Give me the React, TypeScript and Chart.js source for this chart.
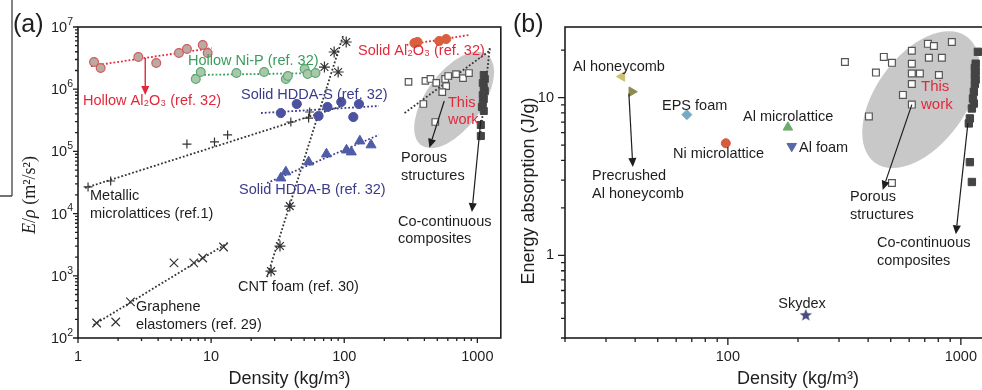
import React, { useEffect, useRef } from 'react';
import { Chart, registerables } from 'chart.js';

Chart.register(...registerables);

const SANS = '"Liberation Sans", Arial, Helvetica, sans-serif';
const SERIF = '"Liberation Serif", "Times New Roman", Times, serif';
const INK = '#1e1e1e';
const RED = '#e2283a';
const GREEN = '#3a9c5e';
const BLUE = '#3b3b8c';

// ---------------- Panel (a): specific modulus vs density ----------------
const hollowAl2O3Density = [1.32, 1.48, 2.84, 3.87, 5.73, 6.58, 8.65, 9.42];
const hollowAl2O3Modulus = [2.74e6, 2.19e6, 3.3e6, 2.64e6, 3.82e6, 4.43e6, 5.14e6, 3.82e6];
const hollowAl2O3FitDensity = [1.25, 10.1];
const hollowAl2O3FitModulus = [2.36e6, 4.59e6];

const hollowNiPDensity = [7.67, 8.36, 15.5, 25, 36.4, 37.7, 50.4, 53.1, 60.8];
const hollowNiPModulus = [1.46e6, 1.89e6, 1.82e6, 1.89e6, 1.46e6, 1.63e6, 2.11e6, 1.75e6, 1.82e6];
const hollowNiPFitDensity = [7.28, 65.2];
const hollowNiPFitModulus = [1.69e6, 1.82e6];

const solidAl2O3Density = [337, 355, 517, 583];
const solidAl2O3Modulus = [5.53e6, 5.74e6, 5.96e6, 6.41e6];
const solidAl2O3FitDensity = [294, 865];
const solidAl2O3FitModulus = [5.14e6, 7.43e6];

const hddaSDensity = [33.4, 44, 64.1, 74.8, 95, 117, 129];
const hddaSModulus = [4.14e5, 5.78e5, 3.71e5, 5.18e5, 6.23e5, 3.57e5, 5.78e5];
const hddaSFitDensity = [23.7, 182];
const hddaSFitModulus = [4.14e5, 5.37e5];

const hddaBDensity = [33.4, 36.4, 54, 73.5, 104, 113, 131, 159];
const hddaBModulus = [3.73e4, 4.67e4, 6.76e4, 9.08e4, 1.05e5, 9.78e4, 1.47e5, 1.27e5];
const hddaBFitDensity = [26.3, 182];
const hddaBFitModulus = [3.1e4, 1.84e5];

const metallicDensity = [1.19, 1.76, 6.58, 10.6, 13.3, 39.7, 54, 55];
const metallicModulus = [2.68e4, 3.34e4, 1.31e5, 1.42e5, 1.84e5, 2.97e5, 3.44e5, 4.3e5];
const metallicFitDensity = [1.13, 96.7];
const metallicFitModulus = [2.58e4, 5.37e5];

const cntDensity = [28.2, 32.9, 39, 71, 90, 84, 103.5];
const cntModulus = [1.19e3, 3.01e3, 1.32e4, 2.27e6, 1.89e6, 3.96e6, 5.74e6];
const cntFitDensity = [26.3, 98.4];
const cntFitModulus = [957, 7.43e6];

const grapheneDensity = [1.38, 1.92, 2.48, 5.26, 7.41, 8.65, 12.4];
const grapheneModulus = [174, 181, 380, 1610, 1610, 1930, 2900];
const grapheneFitDensity = [1.31, 13.3];
const grapheneFitModulus = [162, 3370];

const porousDensityA = [304, 407, 444, 491, 573, 604, 692, 780, 865, 583, 545, 393, 483];
const porousModulusA = [1.31e6, 1.36e6, 1.46e6, 1.26e6, 1.46e6, 1.63e6, 1.75e6, 1.51e6, 1.82e6, 1.12e6, 9.0e5, 5.78e5, 2.97e5];
const porousFitDensityA = [284, 1259];
const porousFitModulusA = [4.14e5, 4.27e6];

const coContDensityA = [1117, 1137, 1099, 1117, 1137, 1099, 1117, 1099, 1082, 1117, 1062, 1062];
const coContModulusA = [1.69e6, 1.46e6, 1.26e6, 1.08e6, 9.35e5, 8.07e5, 6.95e5, 6.0e5, 5.17e5, 4.47e5, 2.66e5, 1.77e5];
const coContFitDensityA = [1239, 1044];
const coContFitModulusA = [4.59e6, 1.52e5];

// ---------------- Panel (b): energy absorption vs density ----------------
const benchmarkNames = ['Al honeycomb', 'Precrushed Al honeycomb', 'EPS foam', 'Ni microlattice', 'Al microlattice', 'Al foam', 'Skydex'];
const benchmarkDensity = [35.1, 38.7, 66.7, 98, 181, 188, 216];
const benchmarkEnergy = [13.6, 10.9, 7.8, 5.14, 6.48, 4.92, 0.42];

const porousDensityB = [318, 467, 506, 432, 616, 722, 766, 915, 729, 829, 616, 616, 667, 805, 616, 564, 616, 403, 506];
const porousEnergyB = [16.8, 18.1, 16.6, 14.4, 19.8, 21.9, 21.2, 22.5, 17.9, 17.9, 16.4, 14.2, 14.2, 13.9, 12.2, 10.4, 9.03, 7.6, 2.88];

const coContDensityB = [1183, 1158, 1148, 1158, 1148, 1158, 1148, 1137, 1127, 1137, 1115, 1093, 1082, 1093, 1115];
const coContEnergyB = [19.5, 16.4, 15.4, 14.6, 13.7, 13.0, 12.2, 10.9, 9.86, 9.17, 8.53, 7.38, 6.86, 3.9, 2.92];

// ---------------- Tick labels ----------------
const aXTickValues = [1, 10, 100, 1000];
const aXTickLabels = ['1', '10', '100', '1000'];
const aYTickValues = [1e2, 1e3, 1e4, 1e5, 1e6, 1e7];
const aYTickBase = ['10', '10', '10', '10', '10', '10'];
const aYTickExponent = ['2', '3', '4', '5', '6', '7'];
const bXTickValues = [100, 1000];
const bXTickLabels = ['100', '1000'];
const bYTickValues = [1, 10];
const bYTickLabels = ['1', '10'];

// ---------------- helpers ----------------
function pts(xs: number[], ys: number[]) {
  return xs.map((x, i) => ({ x, y: ys[i] }));
}

function allLogTicks(min: number, max: number) {
  const out: number[] = [];
  for (let e = Math.floor(Math.log10(min)) - 1; e <= Math.ceil(Math.log10(max)); e++) {
    for (let m = 1; m < 10; m++) {
      const v = m * Math.pow(10, e);
      if (v >= min * 0.9999 && v <= max * 1.0001) out.push(v);
    }
  }
  return out;
}

function isDecade(v: number) {
  const l = Math.log10(v);
  return Math.abs(l - Math.round(l)) < 1e-6;
}

function labelFor(values: number[], labels: string[]) {
  return (v: any) => {
    const i = values.findIndex((t) => Math.abs(Math.log10(t) - Math.log10(Number(v))) < 1e-6);
    return i >= 0 ? labels[i] : '';
  };
}

function pointSet(label: string, xs: number[], ys: number[], style: any) {
  return {
    label,
    data: pts(xs, ys),
    showLine: false,
    order: 0,
    backgroundColor: style.pointBackgroundColor,
    borderColor: style.pointBorderColor,
    ...style,
  };
}

function fitLine(label: string, xs: number[], ys: number[], color: string) {
  return {
    label,
    data: pts(xs, ys),
    showLine: true,
    pointRadius: 0,
    borderColor: color,
    backgroundColor: color,
    borderWidth: 1.8,
    borderDash: [1.8, 2],
    fill: false,
    order: 1,
  };
}

type Arrow = { from: [number, number]; to: [number, number]; color: string; head: number; width: number };
type TextItem = { lines: string[]; x: number; y: number; color: string; size?: number; lh?: number; align?: CanvasTextAlign };

type Deco = {
  ox: number;
  ellipse: { center: [number, number]; a: number; b: number; angle: number };
  arrows: Arrow[];
  texts: TextItem[];
  majorLen: number;
  minorLen: number;
  xTitleY: number;
  extra: (ctx: CanvasRenderingContext2D, chart: any) => void;
};

function makeDeco(d: Deco) {
  return {
    id: 'deco',
    beforeDatasetsDraw(chart: any) {
      const { ctx } = chart;
      const xs = chart.scales.x;
      const ys = chart.scales.y;
      const e = d.ellipse;
      const cx = xs.getPixelForValue(e.center[0]);
      const cy = ys.getPixelForValue(e.center[1]);
      ctx.save();
      ctx.beginPath();
      ctx.ellipse(cx, cy, e.a, e.b, (-e.angle * Math.PI) / 180, 0, Math.PI * 2);
      ctx.fillStyle = '#c8c8c8';
      ctx.fill();
      ctx.restore();
    },
    afterDraw(chart: any) {
      const { ctx, chartArea } = chart;
      const xs = chart.scales.x;
      const ys = chart.scales.y;
      ctx.save();
      // frame
      ctx.strokeStyle = INK;
      ctx.lineWidth = 1.6;
      ctx.strokeRect(chartArea.left, chartArea.top, chartArea.right - chartArea.left, chartArea.bottom - chartArea.top);
      // ticks
      ctx.lineWidth = 1.3;
      ctx.beginPath();
      for (const t of xs.ticks) {
        const px = xs.getPixelForValue(t.value);
        const len = isDecade(t.value) ? d.majorLen : d.minorLen;
        ctx.moveTo(px, chartArea.bottom);
        ctx.lineTo(px, chartArea.bottom + len);
      }
      for (const t of ys.ticks) {
        const py = ys.getPixelForValue(t.value);
        const len = isDecade(t.value) ? d.majorLen : d.minorLen;
        ctx.moveTo(chartArea.left, py);
        ctx.lineTo(chartArea.left - len, py);
      }
      ctx.stroke();
      // arrows
      for (const a of d.arrows) {
        const x1 = xs.getPixelForValue(a.from[0]);
        const y1 = ys.getPixelForValue(a.from[1]);
        const x2 = xs.getPixelForValue(a.to[0]);
        const y2 = ys.getPixelForValue(a.to[1]);
        const ang = Math.atan2(y2 - y1, x2 - x1);
        const hl = a.head;
        const hw = a.head * 0.45;
        const bx = x2 - Math.cos(ang) * hl;
        const by = y2 - Math.sin(ang) * hl;
        ctx.strokeStyle = a.color;
        ctx.fillStyle = a.color;
        ctx.lineWidth = a.width;
        ctx.beginPath();
        ctx.moveTo(x1, y1);
        ctx.lineTo(bx, by);
        ctx.stroke();
        ctx.beginPath();
        ctx.moveTo(x2, y2);
        ctx.lineTo(bx + Math.sin(ang) * hw, by - Math.cos(ang) * hw);
        ctx.lineTo(bx - Math.sin(ang) * hw, by + Math.cos(ang) * hw);
        ctx.closePath();
        ctx.fill();
      }
      // texts
      ctx.textBaseline = 'middle';
      for (const t of d.texts) {
        const size = t.size ?? 14.5;
        const lh = t.lh ?? 17.5;
        ctx.font = `${size}px ${SANS}`;
        ctx.fillStyle = t.color;
        ctx.textAlign = t.align ?? 'left';
        t.lines.forEach((line, i) => ctx.fillText(line, t.x - d.ox, t.y + i * lh));
      }
      // x title
      ctx.font = `18px ${SANS}`;
      ctx.fillStyle = INK;
      ctx.textAlign = 'center';
      ctx.fillText('Density (kg/m³)', (chartArea.left + chartArea.right) / 2, d.xTitleY);
      d.extra(ctx, chart);
      ctx.restore();
    },
  };
}

function baseScale(min: number, max: number, callback: (v: any) => string, isX: boolean, size: number, tl: number, pad: number) {
  return {
    type: 'logarithmic',
    min,
    max,
    afterBuildTicks: (s: any) => {
      s.ticks = allLogTicks(min, max).map((v) => ({ value: v }));
    },
    afterFit: (s: any) => {
      if (isX) s.height = 52;
      else s.width = size;
    },
    grid: { display: true, drawOnChartArea: false, drawTicks: true, tickLength: tl, color: 'rgba(0,0,0,0)', tickColor: 'rgba(0,0,0,0)' },
    border: { display: false },
    ticks: {
      autoSkip: false,
      maxRotation: 0,
      minRotation: 0,
      padding: pad,
      color: INK,
      font: { family: SANS, size: 14.5 },
      callback,
    },
  };
}

function configA(): any {
  const datasets: any[] = [
    fitLine('Hollow Al2O3 fit', hollowAl2O3FitDensity, hollowAl2O3FitModulus, RED),
    fitLine('Hollow Ni-P fit', hollowNiPFitDensity, hollowNiPFitModulus, GREEN),
    fitLine('Solid Al2O3 fit', solidAl2O3FitDensity, solidAl2O3FitModulus, RED),
    fitLine('Solid HDDA-S fit', hddaSFitDensity, hddaSFitModulus, BLUE),
    fitLine('Solid HDDA-B fit', hddaBFitDensity, hddaBFitModulus, BLUE),
    fitLine('Metallic fit', metallicFitDensity, metallicFitModulus, '#333'),
    fitLine('CNT fit', cntFitDensity, cntFitModulus, '#333'),
    fitLine('Graphene fit', grapheneFitDensity, grapheneFitModulus, '#333'),
    fitLine('Porous fit', porousFitDensityA, porousFitModulusA, '#333'),
    fitLine('Co-continuous fit', coContFitDensityA, coContFitModulusA, '#333'),
    pointSet('Hollow Al2O3', hollowAl2O3Density, hollowAl2O3Modulus, { pointStyle: 'circle', pointRadius: 4.4, pointBackgroundColor: '#bba9a3', pointBorderColor: '#cf5c5c', pointBorderWidth: 1.2 }),
    pointSet('Hollow Ni-P', hollowNiPDensity, hollowNiPModulus, { pointStyle: 'circle', pointRadius: 4.4, pointBackgroundColor: '#a9c7a9', pointBorderColor: '#5aa874', pointBorderWidth: 1.2 }),
    pointSet('Solid Al2O3', solidAl2O3Density, solidAl2O3Modulus, { pointStyle: 'circle', pointRadius: 4.6, pointBackgroundColor: '#d9603e', pointBorderColor: '#d9603e', pointBorderWidth: 1 }),
    pointSet('Solid HDDA-S', hddaSDensity, hddaSModulus, { pointStyle: 'circle', pointRadius: 4.6, pointBackgroundColor: '#4d52a0', pointBorderColor: '#4d52a0', pointBorderWidth: 1 }),
    pointSet('Solid HDDA-B', hddaBDensity, hddaBModulus, { pointStyle: 'triangle', pointRadius: 5.8, pointBackgroundColor: '#4f5ca6', pointBorderColor: '#4f5ca6', pointBorderWidth: 1 }),
    pointSet('Metallic microlattices', metallicDensity, metallicModulus, { pointStyle: 'cross', pointRadius: 4.5, pointBackgroundColor: '#333', pointBorderColor: '#333', pointBorderWidth: 1.2 }),
    pointSet('CNT foam', cntDensity, cntModulus, { pointStyle: 'star', pointRadius: 5.5, pointBackgroundColor: '#333', pointBorderColor: '#333', pointBorderWidth: 1.2 }),
    pointSet('Graphene elastomers', grapheneDensity, grapheneModulus, { pointStyle: 'crossRot', pointRadius: 6, pointBackgroundColor: '#333', pointBorderColor: '#333', pointBorderWidth: 1.2 }),
    pointSet('Porous structures', porousDensityA, porousModulusA, { pointStyle: 'rect', pointRadius: 4.6, pointBackgroundColor: '#ffffff', pointBorderColor: '#555', pointBorderWidth: 1.2 }),
    pointSet('Co-continuous composites', coContDensityA, coContModulusA, { pointStyle: 'rect', pointRadius: 5, pointBackgroundColor: '#444', pointBorderColor: '#444', pointBorderWidth: 1 }),
  ];

  const deco = makeDeco({
    ox: 0,
    ellipse: { center: [669, 6.7e5], a: 56, b: 28, angle: 54 },
    arrows: [
      { from: [3.2, 3.18e6], to: [3.2, 8.07e5], color: RED, head: 9, width: 1.4 },
      { from: [564, 6.46e5], to: [436, 1.14e5], color: INK, head: 9, width: 1.2 },
      { from: [1062, 3.2e5], to: [910, 1.06e4], color: INK, head: 9, width: 1.2 },
    ],
    texts: [
      { lines: ['Hollow Al₂O₃ (ref. 32)'], x: 83, y: 101, color: RED },
      { lines: ['Hollow Ni-P (ref. 32)'], x: 188, y: 61, color: GREEN },
      { lines: ['Solid Al₂O₃ (ref. 32)'], x: 358, y: 51, color: RED },
      { lines: ['Solid HDDA-S (ref. 32)'], x: 241, y: 95, color: BLUE },
      { lines: ['Solid HDDA-B (ref. 32)'], x: 239, y: 190, color: BLUE },
      { lines: ['Metallic', 'microlattices (ref.1)'], x: 90, y: 196, color: INK },
      { lines: ['CNT foam (ref. 30)'], x: 238, y: 287, color: INK },
      { lines: ['Graphene', 'elastomers (ref. 29)'], x: 136, y: 307, color: INK },
      { lines: ['This', 'work'], x: 448, y: 103, color: RED, lh: 17 },
      { lines: ['Porous', 'structures'], x: 401, y: 158, color: INK },
      { lines: ['Co-continuous', 'composites'], x: 398, y: 222, color: INK, lh: 16.5 },
    ],
    majorLen: 5,
    minorLen: 3,
    xTitleY: 379,
    extra: (ctx, chart) => {
      const ys = chart.scales.y;
      const left = chart.chartArea.left;
      // y tick labels with raised exponent
      ctx.fillStyle = INK;
      ctx.textAlign = 'left';
      ctx.textBaseline = 'middle';
      aYTickValues.forEach((v, i) => {
        const py = ys.getPixelForValue(v);
        ctx.font = `10.5px ${SANS}`;
        const we = ctx.measureText(aYTickExponent[i]).width;
        ctx.font = `14.5px ${SANS}`;
        const wb = ctx.measureText(aYTickBase[i]).width;
        const right = left - 5;
        ctx.fillText(aYTickBase[i], right - we - wb, py + 1);
        ctx.font = `10.5px ${SANS}`;
        ctx.fillText(aYTickExponent[i], right - we, py - 5);
      });
      // panel letter
      ctx.font = `25px ${SANS}`;
      ctx.textBaseline = 'alphabetic';
      ctx.fillText('(a)', 13, 32);
      // clipped border of neighbouring figure
      ctx.strokeStyle = '#444';
      ctx.lineWidth = 1.3;
      ctx.beginPath();
      ctx.moveTo(12, 0);
      ctx.lineTo(12, 196);
      ctx.moveTo(0, 196);
      ctx.lineTo(12, 196);
      ctx.stroke();
      // y title: E/ρ (m²/s²)
      ctx.save();
      ctx.translate(30, 195);
      ctx.rotate(-Math.PI / 2);
      ctx.textBaseline = 'middle';
      const parts: [string, string][] = [
        ['E', `italic 18px ${SERIF}`],
        ['/', `18px ${SERIF}`],
        ['ρ', `italic 18px ${SERIF}`],
        [' (m²/s²)', `18px ${SERIF}`],
      ];
      let total = 0;
      for (const [t, f] of parts) {
        ctx.font = f;
        total += ctx.measureText(t).width;
      }
      let x = -total / 2;
      for (const [t, f] of parts) {
        ctx.font = f;
        ctx.fillText(t, x, 0);
        x += ctx.measureText(t).width;
      }
      ctx.restore();
    },
  });

  return {
    type: 'scatter',
    data: { datasets },
    options: {
      animation: false,
      responsive: false,
      maintainAspectRatio: false,
      events: [],
      layout: { padding: { left: 0, top: 27, right: 4, bottom: 0 } },
      plugins: { legend: { display: false }, tooltip: { enabled: false }, title: { display: false } },
      scales: {
        x: baseScale(1, 1500, labelFor(aXTickValues, aXTickLabels), true, 52, 5, 5),
        y: baseScale(100, 1e7, () => '', false, 78, 4, 2),
      },
    },
    plugins: [deco],
  };
}

function makeStar(color: string) {
  const c = document.createElement('canvas');
  c.width = 14;
  c.height = 14;
  const g = c.getContext('2d')!;
  g.fillStyle = color;
  g.beginPath();
  for (let i = 0; i < 10; i++) {
    const r = i % 2 === 0 ? 6.5 : 2.8;
    const a = -Math.PI / 2 + (i * Math.PI) / 5;
    const x = 7 + r * Math.cos(a);
    const y = 7.5 + r * Math.sin(a);
    if (i === 0) g.moveTo(x, y);
    else g.lineTo(x, y);
  }
  g.closePath();
  g.fill();
  return c;
}

function configB(): any {
  const styles: any[] = [
    { pointStyle: 'triangle', pointRotation: -90, pointRadius: 5.5, pointBackgroundColor: '#c9c270', pointBorderColor: '#c9c270' },
    { pointStyle: 'triangle', pointRotation: 90, pointRadius: 5.5, pointBackgroundColor: '#8c8c4e', pointBorderColor: '#8c8c4e' },
    { pointStyle: 'rectRot', pointRadius: 5, pointBackgroundColor: '#74aac6', pointBorderColor: '#74aac6' },
    { pointStyle: 'circle', pointRadius: 4.5, pointBackgroundColor: '#d65c3f', pointBorderColor: '#d65c3f' },
    { pointStyle: 'triangle', pointRotation: 0, pointRadius: 5.5, pointBackgroundColor: '#6bab6b', pointBorderColor: '#6bab6b' },
    { pointStyle: 'triangle', pointRotation: 180, pointRadius: 5.5, pointBackgroundColor: '#5a66a8', pointBorderColor: '#5a66a8' },
    { pointStyle: makeStar('#4b4b82'), pointRadius: 7, pointBackgroundColor: '#4b4b82', pointBorderColor: '#4b4b82' },
  ];
  const datasets: any[] = benchmarkNames.map((name, i) =>
    pointSet(name, [benchmarkDensity[i]], [benchmarkEnergy[i]], { pointBorderWidth: 1, ...styles[i] })
  );
  datasets.push(
    pointSet('Porous structures', porousDensityB, porousEnergyB, { pointStyle: 'rect', pointRadius: 4.8, pointBackgroundColor: '#ffffff', pointBorderColor: '#555', pointBorderWidth: 1.2 }),
    pointSet('Co-continuous composites', coContDensityB, coContEnergyB, { pointStyle: 'rect', pointRadius: 5.2, pointBackgroundColor: '#444', pointBorderColor: '#444', pointBorderWidth: 1 })
  );

  const deco = makeDeco({
    ox: 505,
    ellipse: { center: [673, 9.71], a: 78, b: 45, angle: 54 },
    arrows: [
      { from: [37.6, 10.6], to: [39.1, 3.63], color: INK, head: 9, width: 1.2 },
      { from: [616, 9.03], to: [462, 2.6], color: INK, head: 9, width: 1.2 },
      { from: [1072, 6.86], to: [952, 1.36], color: INK, head: 9, width: 1.2 },
    ],
    texts: [
      { lines: ['Al honeycomb'], x: 573, y: 67, color: INK },
      { lines: ['Precrushed', 'Al honeycomb'], x: 592, y: 176, color: INK },
      { lines: ['EPS foam'], x: 662, y: 106, color: INK },
      { lines: ['Ni microlattice'], x: 673, y: 154, color: INK },
      { lines: ['Al microlattice'], x: 743, y: 117, color: INK },
      { lines: ['Al foam'], x: 799, y: 148, color: INK },
      { lines: ['Skydex'], x: 802, y: 304, color: INK, align: 'center' },
      { lines: ['Porous', 'structures'], x: 850, y: 197, color: INK },
      { lines: ['Co-continuous', 'composites'], x: 877, y: 243, color: INK },
      { lines: ['This', 'work'], x: 921, y: 87, color: RED, size: 15, lh: 18 },
    ],
    majorLen: 7,
    minorLen: 4,
    xTitleY: 379,
    extra: (ctx) => {
      ctx.font = `25px ${SANS}`;
      ctx.fillStyle = INK;
      ctx.textAlign = 'left';
      ctx.textBaseline = 'alphabetic';
      ctx.fillText('(b)', 513 - 505, 32);
      ctx.save();
      ctx.translate(529 - 505, 191);
      ctx.rotate(-Math.PI / 2);
      ctx.textAlign = 'center';
      ctx.textBaseline = 'middle';
      ctx.font = `18px ${SANS}`;
      ctx.fillText('Energy absorption (J/g)', 0, 0);
      ctx.restore();
    },
  });

  return {
    type: 'scatter',
    data: { datasets },
    options: {
      animation: false,
      responsive: false,
      maintainAspectRatio: false,
      events: [],
      layout: { padding: { left: 0, top: 27, right: 14, bottom: 0 } },
      plugins: { legend: { display: false }, tooltip: { enabled: false }, title: { display: false } },
      scales: {
        x: baseScale(20, 2000, labelFor(bXTickValues, bXTickLabels), true, 52, 5, 5),
        y: baseScale(0.3, 28, labelFor(bYTickValues, bYTickLabels), false, 60, 7, 4),
      },
    },
    plugins: [deco],
  };
}

export default function App() {
  const refA = useRef<HTMLCanvasElement>(null);
  const refB = useRef<HTMLCanvasElement>(null);
  useEffect(() => {
    const a = new Chart(refA.current!, configA());
    const b = new Chart(refB.current!, configB());
    return () => {
      a.destroy();
      b.destroy();
    };
  }, []);
  return (
    <div style={{ position: 'absolute', left: 0, top: 0, width: 982, height: 390, overflow: 'hidden', background: '#fff' }}>
      <canvas ref={refA} width={508} height={390} style={{ position: 'absolute', left: 0, top: 0, width: 508, height: 390 }} />
      <canvas ref={refB} width={540} height={390} style={{ position: 'absolute', left: 505, top: 0, width: 540, height: 390 }} />
    </div>
  );
}
